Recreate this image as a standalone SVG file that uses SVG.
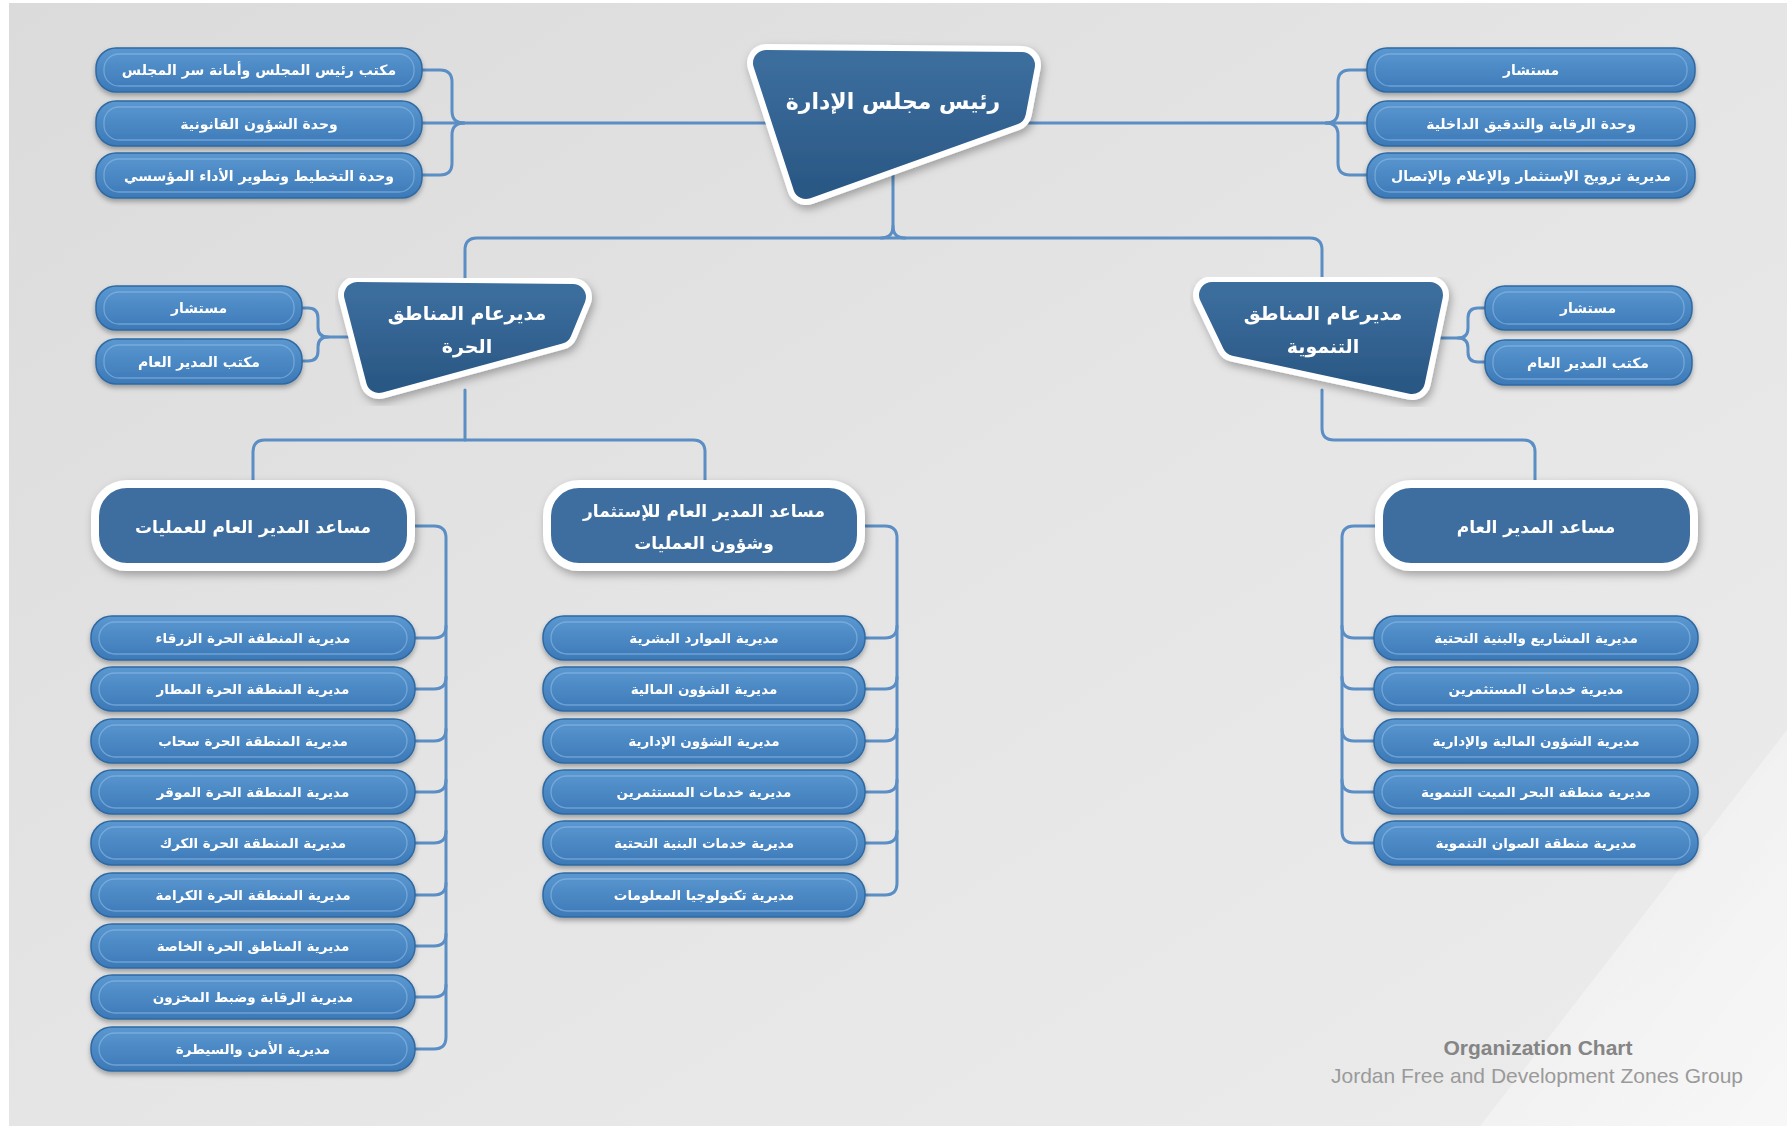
<svg xmlns="http://www.w3.org/2000/svg" width="1787" height="1129" viewBox="0 0 1787 1129">
<defs>
<linearGradient id="bg" x1="0" y1="0" x2="1" y2="1">
<stop offset="0" stop-color="#dbdbdb"/><stop offset="0.5" stop-color="#e5e5e5"/><stop offset="1" stop-color="#ececec"/>
</linearGradient>
<linearGradient id="sheen" x1="0" y1="0" x2="1" y2="1">
<stop offset="0" stop-color="#ffffff" stop-opacity="0.1"/><stop offset="1" stop-color="#ffffff" stop-opacity="0.6"/>
</linearGradient>
<linearGradient id="boxg" x1="0" y1="0" x2="0" y2="1">
<stop offset="0" stop-color="#5b98d1"/><stop offset="1" stop-color="#3c79b7"/>
</linearGradient>
<linearGradient id="darkg" x1="0" y1="0" x2="0" y2="1">
<stop offset="0" stop-color="#3b6d9d"/><stop offset="1" stop-color="#2b5885"/>
</linearGradient>
<filter id="sh" x="-10%" y="-20%" width="120%" height="150%">
<feDropShadow dx="0" dy="3" stdDeviation="2.5" flood-color="#000" flood-opacity="0.3"/>
</filter>
<filter id="sh2" x="-10%" y="-20%" width="125%" height="150%">
<feDropShadow dx="2" dy="4" stdDeviation="4" flood-color="#000" flood-opacity="0.3"/>
</filter>
</defs>
<style>
.box{fill:url(#boxg);stroke:#2f69a2;stroke-width:1.5}
.inner{fill:none;stroke:#8dbbe6;stroke-opacity:0.6;stroke-width:1.3}
.bt{font-family:"DejaVu Sans",sans-serif;font-weight:bold;font-size:14px;fill:#ffffff;text-anchor:middle}
.ct{font-size:13.5px}
.nt{font-family:"DejaVu Sans",sans-serif;font-weight:bold;fill:#ffffff;text-anchor:middle}
.conn path{fill:none;stroke:#5a8ec4;stroke-width:3;stroke-linecap:round}
.outer{fill:none;stroke:#ffffff;stroke-width:38;stroke-linejoin:round}
.dk{fill:url(#darkg);stroke:url(#darkg);stroke-width:26;stroke-linejoin:round}
.l3{fill:#3c6e9f;stroke:#ffffff;stroke-width:8}
.ft1{font-family:"Liberation Sans",Arial,sans-serif;font-weight:bold;font-size:21px;fill:#858585;text-anchor:middle}
.ft2{font-family:"Liberation Sans",Arial,sans-serif;font-size:21px;fill:#9a9a9a;text-anchor:middle}
</style>
<rect x="0" y="0" width="1787" height="1129" fill="#ffffff"/>
<rect x="9" y="3" width="1778" height="1123" fill="url(#bg)"/>
<polygon points="1787,730 1787,1126 1480,1126" fill="url(#sheen)"/>

<g id="connectors" class="conn">
<path d="M422,70 H440 Q452,70 452,82 V111 Q452,123 464,123"/>
<path d="M422,175 H440 Q452,175 452,163 V135 Q452,123 464,123"/>
<path d="M422,123 H800"/>
<path d="M1367,70 H1350 Q1338,70 1338,82 V111 Q1338,123 1326,123"/>
<path d="M1367,175 H1350 Q1338,175 1338,163 V135 Q1338,123 1326,123"/>
<path d="M1000,123 H1367"/>
<path d="M893,170 V226 Q893,238 881,238"/>
<path d="M893,226 Q893,238 905,238"/>
<path d="M465,290 V250 Q465,238 477,238 H1310 Q1322,238 1322,250 V290"/>
<path d="M302,308 H308 Q318,308 318,318 V327 Q318,337 328,337 H360"/>
<path d="M302,361 H308 Q318,361 318,351 V347 Q318,337 328,337"/>
<path d="M1485,308 H1478 Q1468,308 1468,318 V328 Q1468,338 1458,338 H1430"/>
<path d="M1485,362 H1478 Q1468,362 1468,352 V348 Q1468,338 1458,338"/>
<path d="M465,390 V440"/>
<path d="M253,484 V452 Q253,440 265,440 H693 Q705,440 705,452 V484"/>
<path d="M1322,390 V428 Q1322,440 1334,440 H1523 Q1535,440 1535,452 V484"/>
<path d="M415,526 H434 Q446,526 446,538 V1037 Q446,1049 434,1049 H415"/>
<path d="M446,626 Q446,638 434,638 H415"/>
<path d="M446,677 Q446,689 434,689 H415"/>
<path d="M446,729 Q446,741 434,741 H415"/>
<path d="M446,780 Q446,792 434,792 H415"/>
<path d="M446,831 Q446,843 434,843 H415"/>
<path d="M446,883 Q446,895 434,895 H415"/>
<path d="M446,934 Q446,946 434,946 H415"/>
<path d="M446,985 Q446,997 434,997 H415"/>
<path d="M865,526 H885 Q897,526 897,538 V883 Q897,895 885,895 H865"/>
<path d="M897,626 Q897,638 885,638 H865"/>
<path d="M897,677 Q897,689 885,689 H865"/>
<path d="M897,729 Q897,741 885,741 H865"/>
<path d="M897,780 Q897,792 885,792 H865"/>
<path d="M897,831 Q897,843 885,843 H865"/>
<path d="M1375,526 H1354 Q1342,526 1342,538 V831 Q1342,843 1354,843 H1374"/>
<path d="M1342,626 Q1342,638 1354,638 H1374"/>
<path d="M1342,677 Q1342,689 1354,689 H1374"/>
<path d="M1342,729 Q1342,741 1354,741 H1374"/>
<path d="M1342,780 Q1342,792 1354,792 H1374"/>
</g>

<g id="n-chair" filter="url(#sh2)">
<polygon class="outer" points="766,63 1022,65 1013,112 806,186"/>
<polygon class="dk" points="766,63 1022,65 1013,112 806,186"/>
<text class="nt" x="893" y="109" font-size="22">رئيس مجلس الإدارة</text>
</g>

<g id="n-free" filter="url(#sh2)">
<polygon class="outer" points="357,295 573,297 559,331 379,380"/>
<polygon class="dk" points="357,295 573,297 559,331 379,380"/>
<text class="nt" x="467" y="320" font-size="19">مديرعام المناطق</text>
<text class="nt" x="467" y="353" font-size="19">الحرة</text>
</g>

<g id="n-dev" filter="url(#sh2)">
<polygon class="outer" points="1212,295 1430,295 1412,381 1235,343"/>
<polygon class="dk" points="1212,295 1430,295 1412,381 1235,343"/>
<text class="nt" x="1323" y="320" font-size="19">مديرعام المناطق</text>
<text class="nt" x="1323" y="353" font-size="19">التنموية</text>
</g>

<g id="n-ops" filter="url(#sh2)">
<rect class="l3" x="95" y="484" width="316" height="83" rx="32"/>
<text class="nt" x="253" y="533" font-size="17">مساعد المدير العام للعمليات</text>
</g>
<g id="n-inv" filter="url(#sh2)">
<rect class="l3" x="547" y="484" width="314" height="83" rx="32"/>
<text class="nt" x="704" y="517" font-size="17">مساعد المدير العام للإستثمار</text>
<text class="nt" x="704" y="549" font-size="17">وشؤون العمليات</text>
</g>
<g id="n-agm" filter="url(#sh2)">
<rect class="l3" x="1379" y="484" width="315" height="83" rx="32"/>
<text class="nt" x="1536" y="533" font-size="17">مساعد المدير العام</text>
</g>

<g id="b-tl1" filter="url(#sh)"><rect class="box" x="96" y="48" width="326" height="44" rx="20"/><rect class="inner" x="104" y="54" width="310" height="32" rx="15"/><text class="bt" x="259" y="75">مكتب رئيس المجلس وأمانة سر المجلس</text></g>
<g id="b-tl2" filter="url(#sh)"><rect class="box" x="96" y="101" width="326" height="45" rx="20"/><rect class="inner" x="104" y="107" width="310" height="33" rx="15"/><text class="bt" x="259" y="129">وحدة الشؤون القانونية</text></g>
<g id="b-tl3" filter="url(#sh)"><rect class="box" x="96" y="153" width="326" height="45" rx="20"/><rect class="inner" x="104" y="159" width="310" height="33" rx="15"/><text class="bt" x="259" y="181">وحدة التخطيط وتطوير الأداء المؤسسي</text></g>

<g id="b-tr1" filter="url(#sh)"><rect class="box" x="1367" y="48" width="328" height="44" rx="20"/><rect class="inner" x="1375" y="54" width="312" height="32" rx="15"/><text class="bt" x="1531" y="75">مستشار</text></g>
<g id="b-tr2" filter="url(#sh)"><rect class="box" x="1367" y="101" width="328" height="45" rx="20"/><rect class="inner" x="1375" y="107" width="312" height="33" rx="15"/><text class="bt" x="1531" y="129">وحدة الرقابة والتدقيق الداخلية</text></g>
<g id="b-tr3" filter="url(#sh)"><rect class="box" x="1367" y="153" width="328" height="45" rx="20"/><rect class="inner" x="1375" y="159" width="312" height="33" rx="15"/><text class="bt" x="1531" y="181">مديرية ترويج الإستثمار والإعلام والإتصال</text></g>

<g id="b-fl1" filter="url(#sh)"><rect class="box" x="96" y="286" width="206" height="44" rx="20"/><rect class="inner" x="104" y="292" width="190" height="32" rx="15"/><text class="bt" x="199" y="313">مستشار</text></g>
<g id="b-fl2" filter="url(#sh)"><rect class="box" x="96" y="339" width="206" height="45" rx="20"/><rect class="inner" x="104" y="345" width="190" height="33" rx="15"/><text class="bt" x="199" y="367">مكتب المدير العام</text></g>
<g id="b-dr1" filter="url(#sh)"><rect class="box" x="1485" y="286" width="207" height="44" rx="20"/><rect class="inner" x="1493" y="292" width="191" height="32" rx="15"/><text class="bt" x="1588" y="313">مستشار</text></g>
<g id="b-dr2" filter="url(#sh)"><rect class="box" x="1485" y="340" width="207" height="45" rx="20"/><rect class="inner" x="1493" y="346" width="191" height="33" rx="15"/><text class="bt" x="1588" y="368">مكتب المدير العام</text></g>

<g id="b-c1-1" filter="url(#sh)"><rect class="box" x="91" y="616" width="324" height="44" rx="21"/><rect class="inner" x="99" y="622" width="308" height="32" rx="16"/><text class="bt ct" x="253" y="643">مديرية المنطقة الحرة الزرقاء</text></g>
<g id="b-c1-2" filter="url(#sh)"><rect class="box" x="91" y="667" width="324" height="44" rx="21"/><rect class="inner" x="99" y="673" width="308" height="32" rx="16"/><text class="bt ct" x="253" y="694">مديرية المنطقة الحرة المطار</text></g>
<g id="b-c1-3" filter="url(#sh)"><rect class="box" x="91" y="719" width="324" height="44" rx="21"/><rect class="inner" x="99" y="725" width="308" height="32" rx="16"/><text class="bt ct" x="253" y="746">مديرية المنطقة الحرة سحاب</text></g>
<g id="b-c1-4" filter="url(#sh)"><rect class="box" x="91" y="770" width="324" height="44" rx="21"/><rect class="inner" x="99" y="776" width="308" height="32" rx="16"/><text class="bt ct" x="253" y="797">مديرية المنطقة الحرة الموقر</text></g>
<g id="b-c1-5" filter="url(#sh)"><rect class="box" x="91" y="821" width="324" height="44" rx="21"/><rect class="inner" x="99" y="827" width="308" height="32" rx="16"/><text class="bt ct" x="253" y="848">مديرية المنطقة الحرة الكرك</text></g>
<g id="b-c1-6" filter="url(#sh)"><rect class="box" x="91" y="873" width="324" height="44" rx="21"/><rect class="inner" x="99" y="879" width="308" height="32" rx="16"/><text class="bt ct" x="253" y="900">مديرية المنطقة الحرة الكرامة</text></g>
<g id="b-c1-7" filter="url(#sh)"><rect class="box" x="91" y="924" width="324" height="44" rx="21"/><rect class="inner" x="99" y="930" width="308" height="32" rx="16"/><text class="bt ct" x="253" y="951">مديرية المناطق الحرة الخاصة</text></g>
<g id="b-c1-8" filter="url(#sh)"><rect class="box" x="91" y="975" width="324" height="44" rx="21"/><rect class="inner" x="99" y="981" width="308" height="32" rx="16"/><text class="bt ct" x="253" y="1002">مديرية الرقابة وضبط المخزون</text></g>
<g id="b-c1-9" filter="url(#sh)"><rect class="box" x="91" y="1027" width="324" height="44" rx="21"/><rect class="inner" x="99" y="1033" width="308" height="32" rx="16"/><text class="bt ct" x="253" y="1054">مديرية الأمن والسيطرة</text></g>

<g id="b-c2-1" filter="url(#sh)"><rect class="box" x="543" y="616" width="322" height="44" rx="21"/><rect class="inner" x="551" y="622" width="306" height="32" rx="16"/><text class="bt ct" x="704" y="643">مديرية الموارد البشرية</text></g>
<g id="b-c2-2" filter="url(#sh)"><rect class="box" x="543" y="667" width="322" height="44" rx="21"/><rect class="inner" x="551" y="673" width="306" height="32" rx="16"/><text class="bt ct" x="704" y="694">مديرية الشؤون المالية</text></g>
<g id="b-c2-3" filter="url(#sh)"><rect class="box" x="543" y="719" width="322" height="44" rx="21"/><rect class="inner" x="551" y="725" width="306" height="32" rx="16"/><text class="bt ct" x="704" y="746">مديرية الشؤون الإدارية</text></g>
<g id="b-c2-4" filter="url(#sh)"><rect class="box" x="543" y="770" width="322" height="44" rx="21"/><rect class="inner" x="551" y="776" width="306" height="32" rx="16"/><text class="bt ct" x="704" y="797">مديرية خدمات المستثمرين</text></g>
<g id="b-c2-5" filter="url(#sh)"><rect class="box" x="543" y="821" width="322" height="44" rx="21"/><rect class="inner" x="551" y="827" width="306" height="32" rx="16"/><text class="bt ct" x="704" y="848">مديرية خدمات البنية التحتية</text></g>
<g id="b-c2-6" filter="url(#sh)"><rect class="box" x="543" y="873" width="322" height="44" rx="21"/><rect class="inner" x="551" y="879" width="306" height="32" rx="16"/><text class="bt ct" x="704" y="900">مديرية تكنولوجيا المعلومات</text></g>

<g id="b-c3-1" filter="url(#sh)"><rect class="box" x="1374" y="616" width="324" height="44" rx="21"/><rect class="inner" x="1382" y="622" width="308" height="32" rx="16"/><text class="bt ct" x="1536" y="643">مديرية المشاريع والبنية التحتية</text></g>
<g id="b-c3-2" filter="url(#sh)"><rect class="box" x="1374" y="667" width="324" height="44" rx="21"/><rect class="inner" x="1382" y="673" width="308" height="32" rx="16"/><text class="bt ct" x="1536" y="694">مديرية خدمات المستثمرين</text></g>
<g id="b-c3-3" filter="url(#sh)"><rect class="box" x="1374" y="719" width="324" height="44" rx="21"/><rect class="inner" x="1382" y="725" width="308" height="32" rx="16"/><text class="bt ct" x="1536" y="746">مديرية الشؤون المالية والإدارية</text></g>
<g id="b-c3-4" filter="url(#sh)"><rect class="box" x="1374" y="770" width="324" height="44" rx="21"/><rect class="inner" x="1382" y="776" width="308" height="32" rx="16"/><text class="bt ct" x="1536" y="797">مديرية منطقة البحر الميت التنموية</text></g>
<g id="b-c3-5" filter="url(#sh)"><rect class="box" x="1374" y="821" width="324" height="44" rx="21"/><rect class="inner" x="1382" y="827" width="308" height="32" rx="16"/><text class="bt ct" x="1536" y="848">مديرية منطقة الصوان التنموية</text></g>

<g id="footer">
<text class="ft1" x="1538" y="1055">Organization Chart</text>
<text class="ft2" x="1537" y="1083">Jordan Free and Development Zones Group</text>
</g>
</svg>
